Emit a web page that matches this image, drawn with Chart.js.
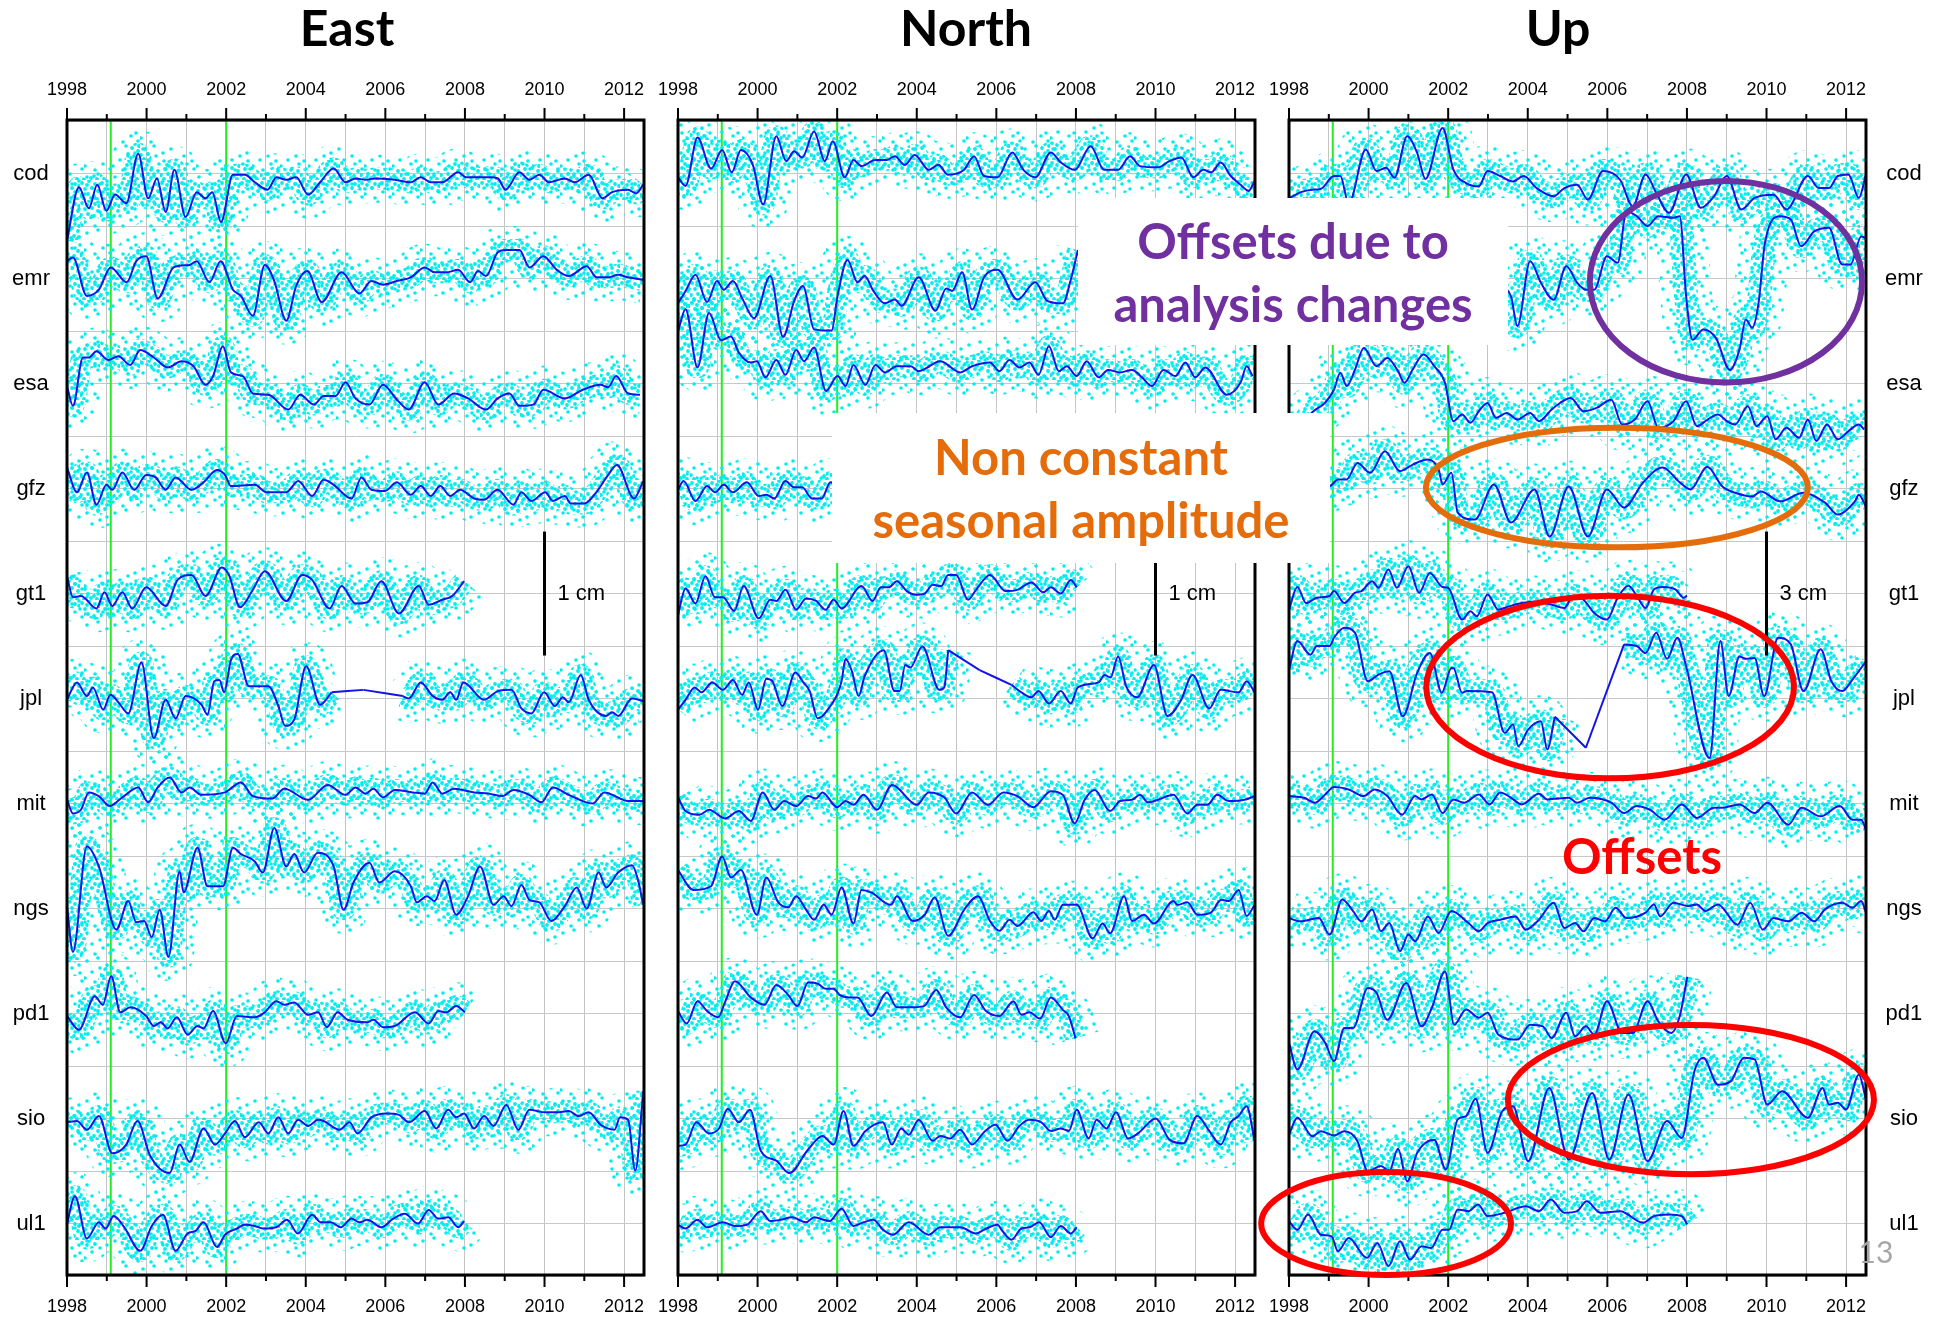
<!DOCTYPE html>
<html>
<head>
<meta charset="utf-8">
<script src="https://cdn.jsdelivr.net/npm/chart.js@4.4.1/dist/chart.umd.min.js"></script>
<style>
  body { margin: 0; background: #fff; }
  #page { position: relative; width: 1939px; height: 1323px; overflow: hidden; background: #fff; }
  canvas { position: absolute; top: 60px; }
  .title { position: absolute; top: 27px; transform: translate(-50%, -50%); font: bold 50px Lato, sans-serif; color: #000; white-space: nowrap; }
  .box { position: absolute; background: #fff; display: flex; flex-direction: column; justify-content: center; align-items: center; font: bold 49px Lato, sans-serif; line-height: 63px; white-space: nowrap; }
  .note { position: absolute; transform: translate(-50%, -50%); font: bold 49px Lato, sans-serif; white-space: nowrap; }
</style>
</head>
<body>
<div id="page">
  <canvas id="east" width="670" height="1263" style="left:0px"></canvas>
  <canvas id="north" width="655" height="1263" style="left:630px"></canvas>
  <canvas id="up" width="699" height="1263" style="left:1240px"></canvas>

  <div class="title" style="left:347px">East</div>
  <div class="title" style="left:966px">North</div>
  <div class="title" style="left:1558px">Up</div>

  <div class="box" style="left:1078px;top:198px;width:430px;height:147px;color:#7030A0"><span>Offsets due to</span><span>analysis changes</span></div>
  <div class="box" style="left:832px;top:413px;width:498px;height:150px;color:#E46C0A"><span>Non constant</span><span>seasonal amplitude</span></div>
  <div class="note" style="left:1642px;top:855px;color:#FF0000">Offsets</div>
  <div class="note" style="left:1876px;top:1251px;font:30px Lato, sans-serif;color:#A6A6A6">13</div>
</div>
<script>
// analysis centres, one row each (top to bottom)
const centres = ['cod', 'emr', 'esa', 'gfz', 'gt1', 'jpl', 'mit', 'ngs', 'pd1', 'sio', 'ul1'];
const yearTicks = [1998, 1999, 2000, 2001, 2002, 2003, 2004, 2005, 2006, 2007, 2008, 2009, 2010, 2011, 2012];
const greenLines = [1999.1, 2002.0];

const eastSeries = [
  [[1998.0,-5.4],[1998.3,-1.1],[1998.55,-2.8],[1998.76,-0.9],[1998.99,-3.0],[1999.21,-1.7],[1999.49,-2.4],[1999.79,1.6],[2000.04,-2.0],[2000.26,-0.4],[2000.48,-3.1],[2000.7,0.3],[2000.98,-3.5],[2001.26,-1.5],[2001.48,-2.0],[2001.65,-1.5],[2001.87,-3.9],[2002.17,-0.1],[2002.47,-0.1],[2002.72,-0.7],[2003.04,-1.3],[2003.26,-0.3],[2003.51,-0.5],[2003.76,-0.3],[2004.06,-1.7],[2004.36,-0.7],[2004.7,0.4],[2005.0,-0.7],[2005.25,-0.4],[2005.5,-0.5],[2005.75,-0.4],[2006.24,-0.5],[2006.64,-0.7],[2006.89,-0.3],[2007.14,-0.7],[2007.43,-0.7],[2007.83,0.1],[2008.03,-0.3],[2008.63,-0.3],[2008.83,-0.4],[2009.02,-1.3],[2009.37,0.1],[2009.62,-0.5],[2009.87,-0.1],[2010.11,-0.7],[2010.51,-0.4],[2010.76,-0.7],[2011.11,-0.1],[2011.46,-2.0],[2011.7,-1.5],[2012.1,-1.3],[2012.3,-1.6],[2012.48,-0.9]],
  [[1998.0,1.4],[1998.15,1.7],[1998.5,-1.4],[1998.8,-0.9],[1999.1,0.9],[1999.5,-0.3],[1999.74,1.4],[1999.99,1.8],[2000.28,-1.6],[2000.68,0.9],[2001.08,1.1],[2001.26,1.4],[2001.58,-0.3],[2001.86,1.4],[2002.17,-0.9],[2002.37,-1.4],[2002.67,-3.0],[2002.97,1.1],[2003.21,-0.2],[2003.51,-3.4],[2003.76,-0.6],[2004.04,0.6],[2004.4,-1.9],[2004.9,0.5],[2005.35,-1.2],[2005.65,-0.2],[2005.94,-0.5],[2006.29,-0.2],[2006.64,0.1],[2006.99,0.9],[2007.24,0.5],[2007.53,0.5],[2007.83,0.7],[2008.13,-0.3],[2008.33,0.6],[2008.53,0.2],[2008.82,2.1],[2009.02,2.3],[2009.37,2.3],[2009.62,0.9],[2009.97,1.8],[2010.31,0.7],[2010.61,0.2],[2011.06,1.0],[2011.31,0.1],[2011.6,0.1],[2011.85,0.3],[2012.1,0.1],[2012.48,-0.1]],
  [[1998.0,-0.2],[1998.15,-1.8],[1998.4,2.1],[1998.55,2.1],[1998.74,2.6],[1999.04,1.9],[1999.29,2.2],[1999.59,1.5],[1999.84,2.7],[2000.18,2.1],[2000.53,1.3],[2000.88,1.8],[2001.18,1.4],[2001.48,-0.1],[2001.67,0.6],[2001.92,3.0],[2002.12,0.9],[2002.42,0.6],[2002.67,-0.8],[2003.06,-0.9],[2003.56,-2.1],[2003.86,-0.9],[2004.2,-1.7],[2004.45,-1.0],[2004.75,-1.0],[2005.0,0.1],[2005.25,-1.2],[2005.6,-1.7],[2005.94,-0.1],[2006.29,-1.3],[2006.59,-2.1],[2006.99,0.1],[2007.33,-1.7],[2007.73,-0.8],[2008.08,-1.2],[2008.53,-2.1],[2008.82,-1.2],[2009.12,-0.8],[2009.37,-1.8],[2009.72,-1.7],[2009.97,-0.5],[2010.51,-1.2],[2010.96,-0.5],[2011.41,-0.1],[2011.6,-0.3],[2011.8,0.6],[2012.1,-0.8],[2012.4,-0.9]],
  [[1998.0,1.7],[1998.25,-0.3],[1998.5,1.3],[1998.74,-1.3],[1998.99,0.3],[1999.14,-0.1],[1999.39,1.3],[1999.69,-0.1],[1999.99,1.1],[2000.23,0.9],[2000.48,-0.1],[2000.73,0.9],[2001.13,-0.1],[2001.43,0.5],[2001.77,1.5],[2001.97,1.1],[2002.12,0.2],[2002.72,0.3],[2003.01,-0.3],[2003.51,-0.3],[2003.81,0.6],[2004.16,-0.6],[2004.45,0.7],[2004.7,0.3],[2005.15,-0.8],[2005.4,0.9],[2005.65,-0.1],[2005.99,-0.2],[2006.29,0.5],[2006.64,-0.5],[2006.89,0.2],[2007.14,-0.6],[2007.38,0.2],[2007.63,-0.6],[2007.88,-0.1],[2008.23,-0.8],[2008.48,-0.9],[2008.82,-0.1],[2009.22,-1.3],[2009.42,-0.3],[2009.67,-1.0],[2010.02,-0.3],[2010.21,-1.0],[2010.51,-0.6],[2010.66,-1.2],[2011.0,-1.2],[2011.3,-0.3],[2011.6,1.1],[2011.82,1.9],[2012.25,-0.8],[2012.48,0.6]],
  [[1998.0,1.4],[1998.15,-0.3],[1998.35,-0.2],[1998.74,-1.2],[1998.94,0.1],[1999.14,-1.0],[1999.39,0.1],[1999.64,-1.2],[1999.99,0.5],[2000.48,-1.0],[2000.78,1.1],[2001.13,1.5],[2001.48,-0.2],[2001.89,2.1],[2002.07,1.5],[2002.35,-1.1],[2002.67,0.3],[2002.97,1.8],[2003.51,-0.6],[2003.91,1.5],[2004.16,1.1],[2004.6,-1.2],[2004.9,0.6],[2005.25,-0.8],[2005.55,-0.7],[2005.9,1.0],[2006.34,-1.6],[2006.84,0.6],[2007.09,-0.9],[2007.43,-0.5],[2007.68,-0.2],[2007.98,1.0]],
  [[1998.0,-0.1],[1998.25,1.3],[1998.5,0.2],[1998.65,0.9],[1998.91,-0.9],[1999.09,0.3],[1999.29,-0.3],[1999.54,-1.2],[1999.87,2.9],[2000.18,-3.2],[2000.48,-0.1],[2000.73,-1.6],[2000.98,0.2],[2001.38,-0.5],[2001.53,-1.3],[2001.7,1.4],[2001.83,1.5],[2001.95,0.5],[2002.12,3.1],[2002.29,3.6],[2002.57,1.0],[2003.06,1.0],[2003.31,-0.6],[2003.48,-2.2],[2003.71,-1.7],[2004.01,2.6],[2004.36,-0.5],[2004.65,0.5],[2005.45,0.7],[2006.44,0.2],[2006.59,0.0],[2006.89,1.3],[2007.19,0.2],[2007.43,-0.1],[2007.63,0.5],[2007.78,-0.1],[2007.96,1.3],[2008.48,-0.1],[2008.83,0.6],[2009.17,0.7],[2009.42,-0.8],[2009.67,-1.2],[2009.99,0.5],[2010.26,-0.6],[2010.46,0.1],[2010.61,-0.3],[2010.91,1.9],[2011.11,-0.1],[2011.55,-1.4],[2011.7,-1.1],[2011.85,-1.4],[2012.2,0.0],[2012.48,-0.2]],
  [[1998.0,0.3],[1998.15,-0.8],[1998.35,-0.5],[1998.55,0.9],[1998.8,0.6],[1999.07,-0.2],[1999.39,0.5],[1999.79,1.3],[2000.04,0.1],[2000.28,1.3],[2000.58,2.1],[2000.88,0.9],[2001.08,1.3],[2001.38,0.7],[2001.97,0.9],[2002.37,1.7],[2002.67,0.6],[2003.16,0.4],[2003.46,1.2],[2004.06,0.3],[2004.55,1.5],[2005.0,0.7],[2005.25,1.3],[2005.5,0.8],[2005.7,1.2],[2005.94,0.5],[2006.24,1.1],[2006.69,0.9],[2006.99,0.8],[2007.19,1.7],[2007.43,0.8],[2007.73,1.2],[2008.23,0.9],[2008.6,0.8],[2008.94,0.6],[2009.22,1.1],[2009.62,0.7],[2009.92,0.1],[2010.21,1.3],[2010.61,0.7],[2011.21,0.0],[2011.5,0.9],[2012.1,0.2],[2012.48,0.2]],
  [[1998.0,0.2],[1998.15,-3.5],[1998.5,5.0],[1998.8,3.4],[1999.24,-1.7],[1999.54,0.6],[1999.74,-1.1],[1999.94,-1.0],[2000.13,-2.3],[2000.33,-0.1],[2000.55,-3.9],[2000.83,3.0],[2000.93,1.3],[2001.28,4.9],[2001.53,1.8],[2001.92,1.8],[2002.17,4.9],[2002.37,4.4],[2002.72,3.8],[2002.92,2.9],[2003.21,6.5],[2003.51,3.4],[2003.71,4.4],[2003.96,2.9],[2004.3,4.5],[2004.7,3.4],[2004.95,-0.1],[2005.2,2.1],[2005.6,3.7],[2005.85,2.1],[2006.24,3.0],[2006.64,1.8],[2006.79,0.5],[2007.04,1.0],[2007.24,0.6],[2007.48,2.3],[2007.78,-0.5],[2008.08,1.0],[2008.38,3.4],[2008.72,0.3],[2008.97,1.0],[2009.17,0.2],[2009.42,1.9],[2009.62,0.7],[2009.87,0.5],[2010.17,-1.0],[2010.51,0.2],[2010.81,1.7],[2011.06,0.0],[2011.36,2.9],[2011.55,1.7],[2011.85,2.9],[2012.2,3.5],[2012.35,2.3],[2012.48,0.3]],
  [[1998.0,-0.2],[1998.3,-1.3],[1998.7,1.4],[1998.9,0.7],[1999.11,3.0],[1999.34,0.1],[1999.59,0.5],[1999.99,-0.2],[2000.18,-1.0],[2000.36,-0.7],[2000.53,-1.2],[2000.76,-0.3],[2001.03,-1.7],[2001.28,-1.0],[2001.43,-1.2],[2001.67,0.2],[2001.99,-2.4],[2002.27,-0.2],[2002.72,-0.3],[2002.97,0.1],[2003.26,1.0],[2003.46,0.7],[2003.71,0.9],[2004.06,-0.1],[2004.31,0.1],[2004.53,-1.1],[2004.8,0.1],[2005.05,-0.5],[2005.55,-0.7],[2005.7,-0.5],[2005.94,-1.1],[2006.24,-1.0],[2006.74,0.1],[2007.09,-0.8],[2007.33,0.2],[2007.53,0.1],[2007.78,0.6],[2008.0,0.1]],
  [[1998.0,-0.3],[1998.25,-0.2],[1998.5,-0.9],[1998.8,0.2],[1999.14,-2.8],[1999.49,-2.1],[1999.77,-0.2],[2000.09,-3.0],[2000.58,-4.4],[2000.83,-2.1],[2001.08,-3.5],[2001.43,-0.8],[2001.72,-2.1],[2001.97,-1.2],[2002.22,-0.2],[2002.47,-1.5],[2002.82,-0.3],[2003.06,-1.2],[2003.31,0.1],[2003.56,-1.2],[2003.81,-0.1],[2004.06,-0.6],[2004.31,-0.1],[2004.45,-0.2],[2004.85,-0.9],[2005.1,-0.3],[2005.3,-1.2],[2005.65,0.1],[2006.04,0.4],[2006.34,0.3],[2006.59,-0.3],[2006.99,0.6],[2007.28,-0.8],[2007.58,0.7],[2007.78,0.1],[2007.98,0.4],[2008.23,-0.8],[2008.48,0.2],[2008.72,-0.6],[2009.04,1.1],[2009.34,-0.9],[2009.62,0.7],[2010.02,0.5],[2010.31,0.5],[2010.61,0.6],[2010.86,0.2],[2011.11,0.5],[2011.41,-0.5],[2011.76,-0.9],[2011.9,0.1],[2012.1,-0.1],[2012.28,-4.2],[2012.48,2.2]],
  [[1998.0,0.0],[1998.2,2.2],[1998.5,-1.2],[1998.8,0.1],[1998.97,-0.4],[1999.17,0.6],[1999.44,-0.3],[1999.84,-2.2],[2000.13,-0.2],[2000.41,0.7],[2000.73,-2.2],[2001.03,-0.8],[2001.23,-0.6],[2001.43,0.1],[2001.77,-1.9],[2001.97,-0.9],[2002.27,-0.4],[2002.47,-0.1],[2002.72,-0.2],[2002.92,-0.4],[2003.26,-0.3],[2003.53,0.3],[2003.8,-0.8],[2004.16,0.7],[2004.38,0.1],[2004.63,0.1],[2004.88,-0.3],[2005.15,0.4],[2005.35,0.1],[2005.55,0.3],[2005.9,-0.3],[2006.2,0.4],[2006.49,0.8],[2006.82,0.0],[2007.09,1.1],[2007.33,0.4],[2007.58,0.5],[2007.83,-0.3],[2007.98,0.2]]
];

const northSeries = [
  [[1998.0,-0.3],[1998.19,-1.0],[1998.49,2.9],[1998.83,0.4],[1999.11,1.9],[1999.35,0.1],[1999.58,1.9],[1999.88,0.7],[2000.14,-2.5],[2000.47,3.0],[2000.72,1.0],[2000.92,1.8],[2001.12,1.3],[2001.42,3.4],[2001.69,1.0],[2001.89,2.6],[2002.19,-0.3],[2002.41,1.1],[2002.61,0.6],[2002.96,1.1],[2003.25,1.1],[2003.45,1.4],[2003.7,0.7],[2003.95,1.5],[2004.3,0.3],[2004.54,0.7],[2004.79,-0.1],[2005.19,0.3],[2005.44,1.4],[2005.69,-0.2],[2006.03,-0.3],[2006.4,1.7],[2006.68,0.3],[2006.98,-0.3],[2007.37,1.7],[2007.62,0.9],[2007.97,0.3],[2008.37,2.2],[2008.71,0.3],[2009.06,0.3],[2009.36,1.4],[2009.61,0.6],[2010.06,0.5],[2010.35,1.0],[2010.65,1.3],[2010.95,-0.3],[2011.2,0.3],[2011.4,0.1],[2011.64,0.9],[2011.89,-0.2],[2012.14,-0.9],[2012.34,-1.4],[2012.49,-0.6]],
  [[1998.0,-2.0],[1998.19,-1.0],[1998.44,0.3],[1998.73,-1.9],[1998.98,-0.2],[1999.15,-0.9],[1999.38,-0.2],[1999.63,-1.7],[1999.91,-3.2],[2000.32,0.2],[2000.64,-4.7],[2000.92,-1.8],[2001.14,-0.6],[2001.42,-4.1],[2001.86,-4.2],[2002.01,-1.4],[2002.26,1.5],[2002.51,-0.3],[2002.69,0.2],[2002.91,-1.0],[2003.2,-2.0],[2003.45,-1.7],[2003.62,-2.2],[2004.05,0.1],[2004.47,-2.6],[2004.74,-0.8],[2004.89,-1.0],[2005.14,0.5],[2005.39,-2.5],[2005.69,0.1],[2006.03,0.7],[2006.53,-1.7],[2006.98,-0.3],[2007.28,-1.8],[2007.67,-2.0],[2007.87,-0.1],[2008.05,2.3]],
  [[1998.0,4.2],[1998.19,6.0],[1998.49,1.3],[1998.78,5.7],[1999.08,3.5],[1999.33,3.8],[1999.53,2.5],[1999.83,1.7],[1999.98,1.8],[2000.2,0.5],[2000.47,1.9],[2000.7,0.7],[2000.97,2.7],[2001.17,1.8],[2001.42,2.9],[2001.72,-0.6],[2002.01,0.6],[2002.21,-0.2],[2002.41,1.5],[2002.71,-0.1],[2002.96,1.5],[2003.2,0.9],[2003.5,1.4],[2003.85,1.4],[2004.05,1.0],[2004.59,1.8],[2005.09,0.9],[2005.39,1.4],[2005.84,1.7],[2006.08,1.0],[2006.33,1.9],[2006.58,1.3],[2006.83,1.7],[2007.06,0.7],[2007.32,3.0],[2007.57,1.0],[2007.77,1.4],[2008.02,0.6],[2008.27,1.8],[2008.57,0.5],[2008.81,1.1],[2009.11,0.9],[2009.41,1.1],[2009.66,0.5],[2009.91,-0.2],[2010.2,1.1],[2010.5,0.6],[2010.75,1.7],[2011.0,0.5],[2011.25,1.3],[2011.79,-0.9],[2012.14,0.1],[2012.29,1.4],[2012.44,0.6]],
  [[1998.0,-0.1],[1998.14,0.6],[1998.44,-1.0],[1998.73,0.2],[1998.93,-0.3],[1999.15,0.3],[1999.38,-0.3],[1999.73,0.5],[2000.03,-0.6],[2000.22,-0.5],[2000.42,-0.8],[2000.7,0.6],[2000.92,0.1],[2001.12,0.1],[2001.37,-0.8],[2001.61,-0.8],[2001.83,0.5],[2001.95,0.3]],
  [[1998.0,-1.7],[1998.19,0.4],[1998.44,-0.8],[1998.69,1.4],[1998.93,-0.3],[1999.13,-0.3],[1999.41,-1.4],[1999.65,0.6],[2000.03,-2.0],[2000.32,-0.5],[2000.47,-0.6],[2000.7,0.3],[2000.97,-1.3],[2001.22,-0.4],[2001.47,-0.6],[2001.71,-1.3],[2001.91,-0.5],[2002.11,-1.2],[2002.61,0.6],[2002.89,-0.6],[2003.1,0.5],[2003.3,0.5],[2003.5,1.0],[2003.75,0.2],[2004.0,-0.1],[2004.2,0.0],[2004.4,0.7],[2004.61,0.6],[2004.79,1.5],[2004.99,1.5],[2005.29,-0.5],[2005.49,0.3],[2005.84,1.5],[2006.23,0.2],[2006.53,0.3],[2006.88,0.9],[2007.18,0.1],[2007.37,0.5],[2007.62,0.0],[2007.87,1.1],[2008.02,0.5]],
  [[1998.0,-0.9],[1998.19,-0.1],[1998.42,0.9],[1998.59,0.5],[1998.86,1.3],[1999.13,0.7],[1999.38,1.5],[1999.61,0.3],[1999.78,1.3],[2000.01,-0.9],[2000.22,1.6],[2000.37,1.4],[2000.62,-0.6],[2000.95,2.1],[2001.15,1.3],[2001.31,0.6],[2001.51,-1.6],[2001.74,-1.0],[2002.11,1.4],[2002.21,3.2],[2002.37,2.2],[2002.54,0.2],[2002.69,1.8],[2003.17,3.9],[2003.44,0.6],[2003.57,0.6],[2003.71,2.7],[2003.84,2.5],[2004.14,4.2],[2004.57,0.7],[2004.69,0.9],[2004.79,3.9],[2005.58,2.3],[2006.38,1.1],[2006.63,0.5],[2006.88,0.1],[2007.06,0.6],[2007.32,-0.4],[2007.62,0.6],[2007.87,-0.4],[2008.05,0.9],[2008.57,1.3],[2008.72,1.9],[2008.87,1.7],[2009.06,3.4],[2009.26,1.0],[2009.54,0.1],[2009.96,2.7],[2010.3,-1.4],[2010.63,-0.2],[2010.93,1.9],[2011.35,-0.8],[2011.64,0.7],[2012.09,0.5],[2012.29,1.4],[2012.49,0.5]],
  [[1998.0,0.5],[1998.19,-0.6],[1998.54,-0.9],[1998.78,-0.5],[1999.18,-1.2],[1999.53,-0.6],[1999.83,-1.4],[2000.13,0.9],[2000.42,-0.5],[2000.67,0.2],[2000.97,-0.2],[2001.27,0.6],[2001.47,0.4],[2001.63,0.9],[2002.0,-0.3],[2002.21,0.2],[2002.41,-0.1],[2002.66,0.7],[2003.0,-0.5],[2003.38,1.5],[2004.0,-0.1],[2004.3,0.9],[2004.69,0.5],[2004.99,-0.8],[2005.39,0.9],[2005.79,-0.1],[2006.18,0.9],[2006.53,0.6],[2006.93,-0.3],[2007.37,1.0],[2007.67,0.7],[2007.97,-1.6],[2008.22,0.3],[2008.47,1.1],[2008.86,-0.6],[2009.11,0.2],[2009.41,0.3],[2009.61,0.7],[2009.81,0.1],[2010.06,0.3],[2010.45,0.7],[2010.8,-0.8],[2011.05,-0.1],[2011.3,-0.1],[2011.55,0.7],[2011.84,0.2],[2012.24,0.3],[2012.49,0.6]],
  [[1998.0,3.1],[1998.39,1.5],[1998.83,1.8],[1999.11,4.2],[1999.33,2.5],[1999.58,3.1],[1999.98,-0.5],[2000.22,2.5],[2000.52,0.5],[2000.77,0.1],[2000.97,1.0],[2001.22,-0.1],[2001.42,-0.9],[2001.66,0.3],[2001.86,-0.5],[2002.11,1.7],[2002.41,-1.2],[2002.61,1.5],[2002.85,1.3],[2003.35,0.3],[2003.5,1.0],[2003.9,-1.0],[2004.2,-0.5],[2004.45,0.9],[2004.79,-2.2],[2005.19,-0.1],[2005.54,1.0],[2005.84,-1.0],[2006.08,-1.8],[2006.33,-0.9],[2006.53,-1.4],[2006.93,-0.3],[2007.13,-1.0],[2007.32,-0.2],[2007.47,-0.9],[2007.67,0.3],[2008.02,0.3],[2008.42,-2.4],[2008.67,-1.2],[2008.86,-2.0],[2009.21,1.0],[2009.41,-1.0],[2009.71,-0.5],[2009.96,-1.2],[2010.45,0.6],[2010.55,0.3],[2010.8,0.5],[2011.05,-0.5],[2011.4,-0.3],[2011.65,0.7],[2011.84,0.6],[2012.09,1.5],[2012.29,-0.6],[2012.49,0.3]],
  [[1998.0,0.2],[1998.22,-0.8],[1998.49,1.0],[1998.73,0.2],[1999.01,-0.3],[1999.18,0.9],[1999.43,2.6],[1999.83,1.3],[2000.17,0.7],[2000.47,2.3],[2000.77,1.5],[2001.0,0.6],[2001.27,2.5],[2001.52,2.4],[2001.71,2.0],[2001.91,2.0],[2002.06,1.5],[2002.31,1.3],[2002.51,1.3],[2002.86,-0.2],[2003.25,1.7],[2003.5,0.5],[2003.8,0.5],[2004.18,0.6],[2004.49,1.9],[2004.74,0.5],[2005.09,-0.3],[2005.44,1.5],[2005.74,0.2],[2006.08,-0.2],[2006.43,1.0],[2006.63,-0.1],[2006.83,0.1],[2007.1,-0.4],[2007.37,1.3],[2007.67,0.3],[2007.82,-0.2],[2007.99,-2.0]],
  [[1998.0,-2.2],[1998.19,-2.1],[1998.46,-0.3],[1998.78,-1.2],[1999.03,-0.8],[1999.25,0.8],[1999.53,-0.3],[1999.81,0.7],[2000.08,-2.6],[2000.47,-3.4],[2000.8,-4.4],[2001.27,-2.5],[2001.63,-1.4],[2001.91,-2.1],[2002.16,0.6],[2002.41,-2.2],[2002.71,-1.0],[2003.15,-0.3],[2003.37,-2.1],[2003.61,-0.8],[2003.8,-1.3],[2004.05,-0.1],[2004.4,-1.8],[2004.59,-1.4],[2004.84,-1.6],[2005.09,-0.9],[2005.39,-2.1],[2005.69,-1.1],[2005.98,-0.5],[2006.28,-1.8],[2006.58,-0.6],[2006.83,-0.1],[2007.13,-0.3],[2007.37,-1.0],[2007.62,-0.8],[2007.82,-1.0],[2008.02,0.7],[2008.32,-1.6],[2008.52,-0.1],[2008.77,-0.8],[2009.01,0.5],[2009.31,-1.6],[2009.56,-1.2],[2010.01,0.0],[2010.35,-1.7],[2010.7,-2.0],[2011.05,0.2],[2011.35,-1.0],[2011.64,-2.1],[2011.89,-0.3],[2012.09,0.2],[2012.29,1.0],[2012.49,-1.8]],
  [[1998.0,-0.1],[1998.19,-0.4],[1998.49,0.3],[1998.73,-0.3],[1999.13,0.1],[1999.43,-0.2],[1999.73,-0.1],[2000.08,1.0],[2000.32,0.2],[2000.57,0.3],[2000.87,0.5],[2001.22,0.1],[2001.42,0.5],[2001.81,0.2],[2002.11,1.2],[2002.41,-0.2],[2002.66,0.1],[2002.91,0.3],[2003.15,-0.5],[2003.4,-0.9],[2003.8,0.1],[2004.3,-0.9],[2004.59,-0.3],[2005.09,-0.3],[2005.49,-0.8],[2005.69,-0.5],[2006.03,-0.1],[2006.13,-0.5],[2006.38,-1.3],[2006.63,-0.4],[2006.83,-0.3],[2007.08,0.1],[2007.37,-1.1],[2007.62,-0.2],[2007.87,-0.8],[2008.02,-0.3]]
];

const upSeries = [
  [[1998.0,-6.0],[1998.3,-4.5],[1998.59,-3.9],[1998.8,-3.7],[1999.13,-0.6],[1999.29,-0.6],[1999.5,-7.3],[1999.93,5.8],[2000.2,0.6],[2000.44,1.4],[2000.65,-1.0],[2000.97,9.0],[2001.22,5.0],[2001.43,-1.3],[2001.86,11.0],[2002.13,1.0],[2002.45,-2.3],[2002.77,-3.1],[2002.99,0.6],[2003.31,-0.6],[2003.63,-1.9],[2003.9,-0.6],[2004.22,-3.5],[2004.65,-5.5],[2004.92,-3.5],[2005.24,-2.7],[2005.51,-6.3],[2005.89,0.6],[2006.32,-1.5],[2006.64,-7.9],[2006.96,-0.2],[2007.23,-4.7],[2007.55,-9.5],[2007.98,-0.2],[2008.35,-8.3],[2008.68,-5.5],[2009.0,-0.6],[2009.37,-8.7],[2009.7,-5.9],[2010.18,-5.1],[2010.5,-8.7],[2011.04,-0.6],[2011.31,-3.5],[2011.57,-3.5],[2011.79,-0.6],[2012.06,-0.2],[2012.32,-5.9],[2012.5,-0.2]],
  [[2003.4,-2.0],[2003.58,-4.3],[2003.74,-11.5],[2004.06,4.2],[2004.33,-1.0],[2004.65,-5.1],[2004.97,3.0],[2005.24,-1.0],[2005.46,-2.7],[2005.67,-2.7],[2005.99,5.4],[2006.26,3.8],[2006.48,16.3],[2006.74,15.1],[2007.01,12.7],[2007.28,15.1],[2007.66,14.7],[2007.82,15.1],[2007.98,-4.3],[2008.14,-14.8],[2008.41,-12.3],[2008.73,-14.4],[2009.08,-22.1],[2009.32,-17.2],[2009.48,-9.9],[2009.64,-11.9],[2009.8,-5.9],[2009.96,8.6],[2010.34,15.1],[2010.61,14.3],[2010.87,7.8],[2011.2,11.4],[2011.57,12.3],[2011.9,3.4],[2012.11,3.4],[2012.38,10.2],[2012.5,9.8]],
  [[1998.0,-12.0],[1998.3,-10.0],[1998.6,-6.8],[1998.9,-4.7],[1999.13,-1.5],[1999.29,2.6],[1999.45,-0.6],[1999.66,3.4],[1999.88,8.6],[2000.2,4.2],[2000.47,6.2],[2000.74,3.0],[2000.9,0.2],[2001.11,3.4],[2001.38,7.0],[2001.65,4.2],[2001.92,0.2],[2002.13,-9.1],[2002.35,-7.5],[2002.56,-9.5],[2002.77,-6.7],[2002.99,-4.7],[2003.2,-8.3],[2003.47,-7.1],[2003.74,-8.7],[2004.06,-7.1],[2004.28,-9.1],[2004.6,-6.3],[2004.81,-4.7],[2005.08,-3.5],[2005.4,-6.7],[2005.73,-5.9],[2006.1,-3.9],[2006.37,-9.9],[2006.69,-8.7],[2007.01,-4.3],[2007.28,-10.7],[2007.66,-9.1],[2007.98,-4.3],[2008.25,-10.3],[2008.52,-8.7],[2008.78,-7.5],[2009.0,-9.1],[2009.21,-9.9],[2009.53,-5.5],[2009.75,-10.3],[2010.02,-7.9],[2010.23,-13.5],[2010.5,-10.7],[2010.82,-13.1],[2011.04,-8.7],[2011.25,-13.9],[2011.52,-9.9],[2011.79,-13.5],[2012.06,-11.5],[2012.32,-9.9],[2012.45,-11.1]],
  [[1998.0,0.5],[1998.5,1.5],[1999.02,0.6],[1999.23,2.2],[1999.45,2.2],[1999.72,6.2],[2000.04,3.8],[2000.41,9.0],[2000.79,4.2],[2001.11,5.8],[2001.49,7.0],[2001.76,4.6],[2001.86,1.0],[2002.08,3.8],[2002.24,-5.8],[2002.67,-7.5],[2003.15,1.0],[2003.58,-8.2],[2004.17,-0.2],[2004.55,-11.6],[2005.03,0.5],[2005.51,-11.6],[2005.99,-0.2],[2006.42,-4.6],[2006.9,1.5],[2007.39,5.1],[2007.82,1.5],[2008.09,-0.2],[2008.51,5.3],[2008.89,0.5],[2009.21,-1.0],[2009.64,-1.9],[2009.86,-0.7],[2010.34,-3.1],[2010.93,-1.0],[2011.47,-3.4],[2011.79,-6.3],[2012.22,-3.1],[2012.32,-1.5],[2012.5,-4.4]],
  [[1998.0,-3.9],[1998.21,1.6],[1998.43,-2.3],[1998.7,-1.0],[1999.02,-0.6],[1999.13,0.6],[1999.39,-2.3],[1999.66,0.2],[1999.82,0.6],[2000.09,3.0],[2000.25,1.4],[2000.5,5.8],[2000.71,1.4],[2001.0,6.6],[2001.27,0.2],[2001.54,5.0],[2001.86,1.6],[2002.0,1.4],[2002.35,-6.3],[2002.56,-4.3],[2002.72,-5.5],[2002.99,-0.2],[2003.26,-3.9],[2003.53,-3.1],[2003.85,-2.3],[2004.17,-1.9],[2004.6,-2.7],[2004.92,-3.5],[2005.14,-0.6],[2005.4,-1.5],[2005.67,-4.7],[2005.99,-6.3],[2006.26,-1.0],[2006.53,1.9],[2006.74,-0.6],[2006.96,-3.5],[2007.17,1.0],[2007.39,1.6],[2007.71,1.0],[2007.92,-1.0],[2008.0,-0.5]],
  [[1998.0,7.0],[1998.21,13.9],[1998.54,10.6],[1998.7,12.7],[1999.02,12.7],[1999.13,14.7],[1999.39,17.1],[1999.66,15.9],[1999.98,4.2],[2000.25,5.8],[2000.52,6.6],[2000.86,-4.3],[2001.22,6.2],[2001.54,11.0],[2001.84,1.4],[2002.08,7.4],[2002.13,7.4],[2002.35,1.4],[2002.47,1.8],[2003.1,1.5],[2003.42,-8.3],[2003.63,-6.3],[2003.76,-11.5],[2004.01,-7.5],[2004.33,-5.5],[2004.49,-12.3],[2004.68,-4.4],[2005.46,-11.9],[2006.42,13.1],[2006.74,12.7],[2006.96,11.0],[2007.23,15.9],[2007.5,9.6],[2007.76,14.7],[2007.98,7.8],[2008.57,-14.4],[2008.84,13.9],[2009.05,0.6],[2009.32,10.2],[2009.48,9.6],[2009.7,9.8],[2009.94,0.6],[2010.29,14.7],[2010.61,13.1],[2010.93,1.8],[2011.36,11.9],[2011.63,4.2],[2011.9,1.8],[2012.16,4.6],[2012.5,9.0]],
  [[1998.0,1.8],[1998.38,1.4],[1998.65,0.2],[1998.91,2.2],[1999.13,4.0],[1999.5,3.4],[1999.88,1.8],[2000.15,3.4],[2000.47,1.8],[2000.84,-2.7],[2001.17,1.8],[2001.33,1.0],[2001.59,2.2],[2001.86,-2.3],[2002.13,1.0],[2002.4,0.2],[2002.77,2.2],[2003.04,-0.2],[2003.31,2.7],[2003.58,1.4],[2003.85,-0.2],[2004.28,2.4],[2004.49,1.0],[2005.03,1.4],[2005.24,0.2],[2005.56,1.4],[2006.1,0.2],[2006.42,-2.3],[2006.74,-0.6],[2007.07,-1.5],[2007.44,-3.9],[2007.87,-0.2],[2008.25,-3.5],[2008.68,-1.0],[2008.89,-1.0],[2009.32,-0.2],[2009.7,-2.3],[2010.02,0.2],[2010.55,-5.1],[2010.88,-1.0],[2011.36,-3.1],[2011.84,-0.6],[2012.16,-3.9],[2012.38,-3.9],[2012.5,-6.3]],
  [[1998.0,-2.3],[1998.27,-3.1],[1998.75,-2.3],[1999.02,-6.3],[1999.34,2.2],[1999.61,-0.6],[1999.82,-3.1],[2000.09,-0.2],[2000.31,-5.5],[2000.52,-3.5],[2000.79,-10.3],[2001.0,-6.3],[2001.17,-7.9],[2001.49,-1.9],[2001.76,-5.9],[2002.08,-0.6],[2002.51,-3.5],[2002.77,-5.5],[2002.99,-3.5],[2003.31,-2.7],[2003.69,-1.9],[2003.95,-5.1],[2004.28,-2.7],[2004.65,1.4],[2004.92,-4.7],[2005.19,-3.5],[2005.4,-5.5],[2005.67,-2.3],[2005.94,-3.1],[2006.21,0.2],[2006.48,-2.3],[2006.96,-1.0],[2007.17,1.0],[2007.33,-1.9],[2007.66,1.4],[2008.03,0.6],[2008.25,1.0],[2008.46,-0.6],[2008.78,1.0],[2009.27,-3.9],[2009.59,1.4],[2009.91,-5.1],[2010.18,-2.3],[2010.55,-3.1],[2010.88,-1.0],[2011.2,-3.1],[2011.47,-0.2],[2011.9,1.4],[2012.16,0.2],[2012.38,1.8],[2012.5,-1.0]],
  [[1998.0,-7.1],[1998.21,-13.5],[1998.64,-4.3],[1998.91,-7.1],[1999.13,-11.5],[1999.39,-3.5],[1999.61,-3.5],[1999.98,6.2],[2000.2,5.0],[2000.47,-1.5],[2000.95,7.4],[2001.33,-3.1],[2001.59,1.4],[2001.92,10.2],[2002.15,-2.7],[2002.45,1.0],[2002.77,-1.0],[2002.99,0.2],[2003.26,-5.1],[2003.74,-6.3],[2004.06,-2.7],[2004.38,-3.1],[2004.6,-5.9],[2004.97,0.2],[2005.19,-5.5],[2005.46,-3.1],[2005.67,-5.1],[2005.99,3.0],[2006.37,-4.7],[2006.64,-4.7],[2007.01,3.0],[2007.28,-1.9],[2007.6,-4.7],[2007.82,-0.6],[2008.01,8.9]],
  [[1998.0,-3.9],[1998.21,0.2],[1998.59,-4.3],[1998.8,-3.1],[1999.13,-4.1],[1999.39,-3.1],[1999.72,-5.5],[1999.98,-12.7],[2000.31,-11.5],[2000.52,-12.7],[2000.74,-7.3],[2000.97,-15.2],[2001.22,-8.3],[2001.65,-5.1],[2001.94,-12.3],[2002.24,-0.2],[2002.45,0.6],[2002.69,4.8],[2002.99,-8.3],[2003.36,1.8],[2003.63,3.0],[2004.01,-10.3],[2004.54,7.4],[2005.03,-9.9],[2005.62,6.2],[2006.05,-9.9],[2006.53,5.8],[2007.01,-10.3],[2007.5,-0.6],[2007.87,-4.7],[2008.19,11.5],[2008.41,14.7],[2008.78,8.2],[2009.1,9.0],[2009.43,14.7],[2009.7,14.3],[2010.02,3.4],[2010.39,6.6],[2011.04,0.2],[2011.41,7.4],[2011.57,3.4],[2011.79,3.8],[2012.0,2.2],[2012.32,10.6],[2012.5,4.6]],
  [[1998.0,0.6],[1998.21,-1.5],[1998.48,2.2],[1998.8,-2.7],[1999.07,-3.1],[1999.23,-6.7],[1999.5,-3.5],[1999.96,-8.3],[2000.22,-4.7],[2000.5,-10.3],[2000.79,-4.3],[2001.04,-8.7],[2001.33,-5.5],[2001.57,-5.9],[2001.86,-1.5],[2002.02,-1.5],[2002.24,3.4],[2002.51,3.0],[2002.75,4.6],[2002.99,1.8],[2003.42,2.6],[2003.95,4.2],[2004.28,3.0],[2004.58,5.8],[2004.92,2.6],[2005.24,3.0],[2005.48,5.4],[2005.83,2.6],[2006.32,3.0],[2006.9,0.2],[2007.17,1.8],[2007.55,2.2],[2007.87,1.8],[2008.01,-0.2]]
];

// ---- drawing -------------------------------------------------------------

// dotted cyan texture that stands in for the weekly scatter around each curve
function dotPattern(size, spots, r) {
  const c = document.createElement('canvas');
  c.width = size; c.height = size;
  const g = c.getContext('2d');
  g.fillStyle = '#00EEEE';
  spots.forEach(s => { g.beginPath(); g.arc(s[0], s[1], r, 0, Math.PI * 2); g.fill(); });
  return g.createPattern(c, 'repeat');
}
const coreDots = dotPattern(20, [[2,3],[9,1],[15,4],[5,9],[12,8],[18,11],[1,15],[8,14],[14,16],[17,19],[4,19],[11,18],[19,6],[7,5]], 1.9);
const outerDots = dotPattern(28, [[3,5],[14,2],[23,9],[8,16],[19,20],[26,25],[11,26],[1,22],[16,12],[24,17]], 1.8);

const gapLimit = 0.7;   // years; longer joins are data gaps drawn straight and without scatter

// split a curve at its gaps: smooth runs plus straight two-point joins
function splitRuns(data) {
  const runs = [], joins = [];
  let run = [data[0]];
  for (let i = 1; i < data.length; i++) {
    if (data[i].x - data[i - 1].x > gapLimit) {
      runs.push(run);
      joins.push([data[i - 1], data[i]]);
      run = [];
    }
    run.push(data[i]);
  }
  runs.push(run);
  return { runs, joins };
}

function makePanel(id, series, step, cfg) {
  const datasets = [];
  const base = { pointRadius: 0, fill: false, cubicInterpolationMode: 'monotone', clip: 0, borderJoinStyle: 'round' };
  series.forEach((pts, k) => {
    const data = pts.map(p => ({ x: p[0], y: p[1] - k * step }));
    const parts = splitRuns(data);
    parts.runs.forEach(run => {
      datasets.push({ ...base, data: run, borderColor: outerDots, borderWidth: cfg.outer, order: 3 });
      datasets.push({ ...base, data: run, borderColor: coreDots, borderWidth: cfg.core, order: 2 });
      datasets.push({ ...base, data: run, borderColor: '#1414E6', borderWidth: 2, order: 1 });
    });
    parts.joins.forEach(j => {
      datasets.push({ ...base, data: j, borderColor: '#1414E6', borderWidth: 2, order: 1 });
    });
  });

  const halfRows = [];
  for (let k = -1; k <= 21; k++) halfRows.push(-k * step / 2);

  const decor = {
    id: 'decor',
    beforeDatasetsDraw(chart) {
      const { ctx, chartArea: a, scales: { x } } = chart;
      ctx.save();
      ctx.strokeStyle = '#22EE22';
      ctx.lineWidth = 2;
      greenLines.forEach(t => {
        const px = x.getPixelForValue(t);
        ctx.beginPath(); ctx.moveTo(px, a.top); ctx.lineTo(px, a.bottom); ctx.stroke();
      });
      ctx.restore();
    },
    afterDatasetsDraw(chart) {
      const { ctx, chartArea: a, scales: { x, y } } = chart;
      ctx.save();
      ctx.strokeStyle = '#000';
      ctx.lineWidth = 2;
      yearTicks.forEach(t => {
        const px = x.getPixelForValue(t);
        const len = t % 2 === 0 ? 12 : 6;
        ctx.beginPath();
        ctx.moveTo(px, a.top); ctx.lineTo(px, a.top - len);
        ctx.moveTo(px, a.bottom); ctx.lineTo(px, a.bottom + len);
        ctx.stroke();
      });
      ctx.lineWidth = 3;
      ctx.strokeRect(a.left, a.top, a.right - a.left, a.bottom - a.top);

      // scale bar on the gt1 row
      const bx = x.getPixelForValue(2010);
      const yc = -4 * step;
      ctx.beginPath();
      ctx.moveTo(bx, y.getPixelForValue(yc + cfg.bar / 2));
      ctx.lineTo(bx, y.getPixelForValue(yc - cfg.bar / 2));
      ctx.stroke();
      ctx.fillStyle = '#000';
      ctx.font = '22px "Liberation Sans", Arial, sans-serif';
      ctx.textBaseline = 'middle';
      ctx.fillText(cfg.barLabel, bx + 13, y.getPixelForValue(yc));
      ctx.restore();
    },
    afterDraw(chart) {
      const { ctx, scales: { x, y } } = chart;
      const pxYear = x.getPixelForValue(1999) - x.getPixelForValue(1998);
      const pxRow = y.getPixelForValue(-step) - y.getPixelForValue(0);
      ctx.save();
      (cfg.rings || []).forEach(e => {
        ctx.strokeStyle = e[4];
        ctx.lineWidth = 6;
        ctx.beginPath();
        ctx.ellipse(x.getPixelForValue(e[0]), y.getPixelForValue(-e[1] * step), e[2] * pxYear, e[3] * pxRow, 0, 0, Math.PI * 2);
        ctx.stroke();
      });
      ctx.restore();
    }
  };

  const xTicks = {
    autoSkip: false, maxRotation: 0, color: '#000',
    font: { family: '"Liberation Sans", Arial, sans-serif', size: 18 },
    callback: v => (v % 2 === 0 ? String(v) : '')
  };

  new Chart(document.getElementById(id), {
    type: 'line',
    data: { datasets },
    options: {
      responsive: false,
      animation: false,
      events: [],
      layout: { autoPadding: false, padding: cfg.padding },
      plugins: { legend: { display: false }, tooltip: { enabled: false } },
      scales: {
        x: {
          type: 'linear', position: 'bottom', min: 1998, max: 2012.5,
          afterBuildTicks: s => { s.ticks = yearTicks.map(v => ({ value: v })); },
          afterFit: s => { s.height = 48; },
          grid: { color: '#C4C4C4', lineWidth: 1, drawTicks: false },
          border: { display: false },
          ticks: { ...xTicks, padding: 21 }
        },
        xTop: {
          type: 'linear', axis: 'x', position: 'top', min: 1998, max: 2012.5,
          afterBuildTicks: s => { s.ticks = yearTicks.map(v => ({ value: v })); },
          afterFit: s => { s.height = 60; },
          grid: { display: false, drawTicks: false },
          border: { display: false },
          ticks: { ...xTicks, padding: 19 }
        },
        y: {
          type: 'linear', position: cfg.side, min: -10.49 * step, max: 0.51 * step,
          afterBuildTicks: s => { s.ticks = halfRows.map(v => ({ value: v })); },
          afterFit: s => { s.width = cfg.axisWidth; },
          grid: { color: '#C8C8C8', lineWidth: 1, drawTicks: false },
          border: { display: false },
          ticks: {
            crossAlign: 'center', padding: cfg.labelPad, color: '#000',
            font: { family: '"Liberation Sans", Arial, sans-serif', size: 22 },
            callback: v => {
              if (!cfg.labels) return '';
              const k = Math.round(-v / step * 2);
              return (k >= 0 && k % 2 === 0 && k / 2 < centres.length) ? centres[k / 2] : '';
            }
          }
        }
      }
    },
    plugins: [decor]
  });
}

const horizStep = 8.47;   // mm between rows, East and North
const upStep = 25.4;      // mm between rows, Up

makePanel('east', eastSeries, horizStep, {
  side: 'left', axisWidth: 67, labels: true, labelPad: 17,
  padding: { left: 0, right: 26, top: 0, bottom: 0 },
  core: 22, outer: 48, bar: 10, barLabel: '1 cm'
});
makePanel('north', northSeries, horizStep, {
  side: 'left', axisWidth: 48, labels: false, labelPad: 0,
  padding: { left: 0, right: 30, top: 0, bottom: 0 },
  core: 22, outer: 48, bar: 10, barLabel: '1 cm'
});
makePanel('up', upSeries, upStep, {
  side: 'right', axisWidth: 73, labels: true, labelPad: 19,
  padding: { left: 49, right: 0, top: 0, bottom: 0 },
  core: 24, outer: 52, bar: 30, barLabel: '3 cm',
  // [centre year, centre row, half-width in years, half-height in rows, colour]
  rings: [
    [2008.98, 1.03, 3.42, 0.96, '#7030A0'],
    [2006.24, 2.99, 4.8, 0.57, '#E46C0A'],
    [2006.07, 4.89, 4.62, 0.87, '#FF0000'],
    [2008.1, 8.82, 4.6, 0.71, '#FF0000'],
    [2000.44, 10.0, 3.14, 0.49, '#FF0000']
  ]
});
</script>
</body>
</html>
